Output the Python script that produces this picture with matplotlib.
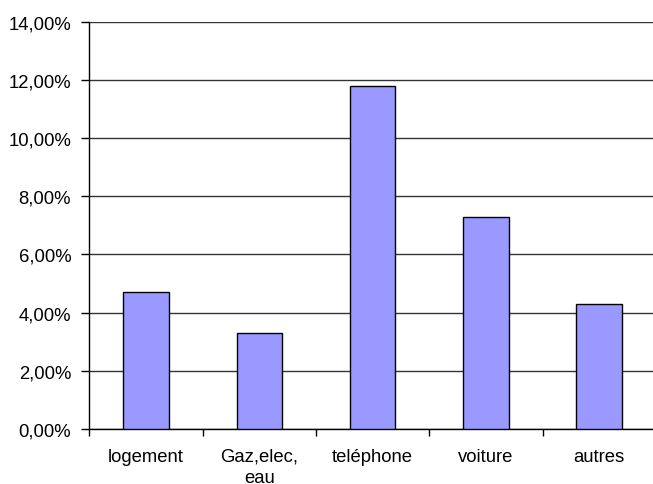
import numpy as np
import matplotlib
matplotlib.use("Agg")
import matplotlib.pyplot as plt
from matplotlib.ticker import FuncFormatter

# données
categories = ["logement", "Gaz,elec,\neau", "teléphone", "voiture", "autres"]
values = [0.047, 0.033, 0.118, 0.073, 0.043]
y_ticks = [0.0, 0.02, 0.04, 0.06, 0.08, 0.10, 0.12, 0.14]

plt.rcParams["font.family"] = ["Liberation Sans", "DejaVu Sans"]

W, H = 653, 485
fig = plt.figure(figsize=(W / 100, H / 100), dpi=100)
# zone de tracé : gauche 89 px, haut 22.5 px, bas 430 px, largeur 5 catégories * 113.3 px
left, top, bottom, cat_w = 89.3, 22.6, 430.0, 113.3
ax = fig.add_axes([left / W, 1 - bottom / H, 5 * cat_w / W, (bottom - top) / H])

x = np.arange(len(categories))
ax.bar(x, values, width=0.4, color="#9999FF", edgecolor="black", linewidth=1.0, zorder=3)

ax.set_xlim(-0.5, len(categories) - 0.5)
ax.set_ylim(0, 0.14)
ax.set_yticks(y_ticks)
ax.yaxis.set_major_formatter(FuncFormatter(lambda v, p: f"{v * 100:.2f}%".replace(".", ",")))
ax.grid(axis="y", color="#333333", linewidth=1.0, zorder=0)

# ticks aux limites des catégories, étiquettes au centre
ax.set_xticks(np.arange(len(categories) + 1) - 0.5)
ax.set_xticklabels([])
ax.set_xticks(x, minor=True)
ax.set_xticklabels(categories, minor=True, linespacing=1.3)
ax.tick_params(axis="x", which="major", length=5, width=1, color="black")
ax.tick_params(axis="x", which="minor", length=0, pad=13.5, labelsize=13.3)
ax.tick_params(axis="y", length=6, width=1, pad=7, labelsize=13.3)

for side in ["top", "right"]:
    ax.spines[side].set_visible(False)
for side in ["left", "bottom"]:
    ax.spines[side].set_linewidth(1.0)
    ax.spines[side].set_color("black")

fig.savefig("out.png", dpi=100)
